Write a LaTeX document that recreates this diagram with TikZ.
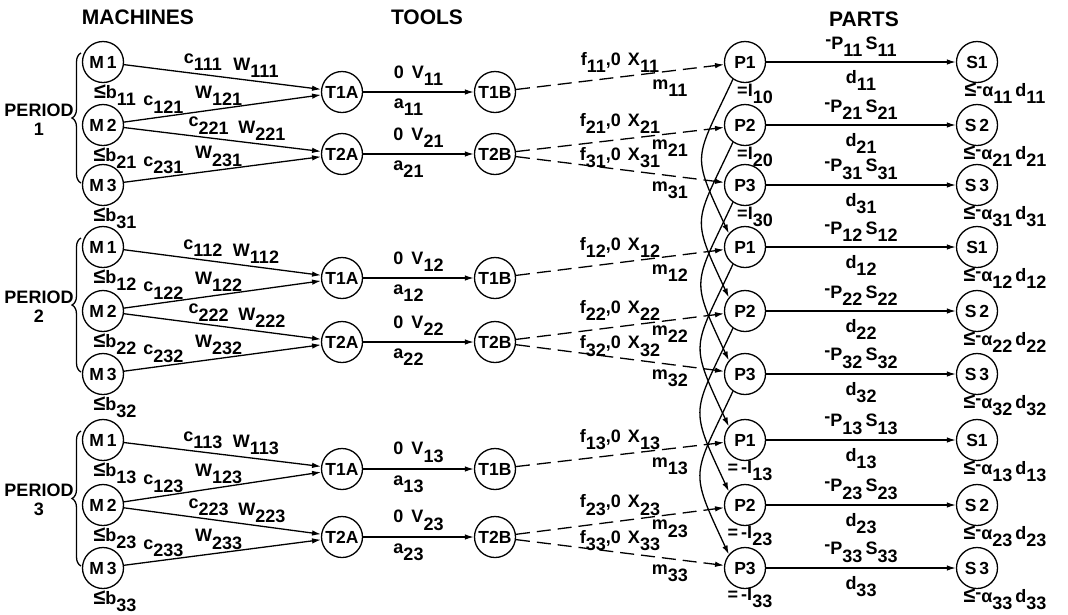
\documentclass[tikz,border=0pt]{standalone}
\usepackage{fontspec}
\setmainfont{Liberation Sans}
\usetikzlibrary{arrows.meta,decorations.pathreplacing,calc}
\newcommand{\sbx}[1]{\raisebox{-0.4em}{#1}}
\newcommand{\mn}{\raisebox{0.22em}{-}}
\newcommand{\leqb}{\scalebox{1.2}{≤}}
\begin{document}
\begin{tikzpicture}[x=1pt,y=-1pt,
  every node/.style={font=\fontsize{18}{19}\selectfont\bfseries},
  circ/.style={draw,circle,minimum size=41pt,inner sep=0pt,line width=1.3pt,font=\fontsize{17.5}{18}\selectfont\bfseries},
  arr/.style={line width=1.3pt,-{Latex[length=9pt,width=5.5pt]}},
  darr/.style={arr,dash pattern=on 14pt off 7pt},
  lab/.style={inner sep=1pt},
  head/.style={font=\fontsize{21}{23}\selectfont\bfseries},
  brc/.style={line width=1.3pt,decorate,decoration={brace,amplitude=9pt}},
]
\fill[white] (0,0) rectangle (1068,614);
\useasboundingbox (0,0) rectangle (1068,614);
\node[head] (hm) at (138,17) {MACHINES};
\node[head] (ht) at (427,17) {TOOLS};
\node[head] (hp) at (864,19) {PARTS};
\foreach \pp/\ya/\yb/\yc/\ta/\tb in {1/62/125/185/92/154,2/247/311/374/278/342,3/440/505/568/469/537}{
  \node[circ] (M1\pp) at (103,\ya) {M\,1};
  \node[circ] (M2\pp) at (103,\yb) {M\,2};
  \node[circ] (M3\pp) at (103,\yc) {M\,3};
  \node[circ] (TA1\pp) at (342,\ta) {T1A};
  \node[circ] (TB1\pp) at (495,\ta) {T1B};
  \node[circ] (TA2\pp) at (342,\tb) {T2A};
  \node[circ] (TB2\pp) at (495,\tb) {T2B};
  \node[circ] (P1\pp) at (745,\ya) {P1};
  \node[circ] (P2\pp) at (745,\yb) {P2};
  \node[circ] (P3\pp) at (745,\yc) {P3};
  \node[circ] (S1\pp) at (977,\ya) {S1};
  \node[circ] (S2\pp) at (977,\yb) {S\,2};
  \node[circ] (S3\pp) at (977,\yc) {S\,3};
  % period brace and label
  \coordinate (bb\pp) at (81,{\yc-2});
  \coordinate (bt\pp) at (81,{\ya-9});
  \draw[brc] (bb\pp) -- (bt\pp);
  \node[align=center,inner sep=0pt] (per\pp) at (39,{(\ya+\yc)/2-4}) {PERIOD\\\pp};
  % bounds under machines
  \node[lab,anchor=north,xshift=12pt] (b1\pp) at (M1\pp.south) {\leqb b\sbx{1\pp}};
  \node[lab,anchor=north,xshift=12pt] (b2\pp) at (M2\pp.south) {\leqb b\sbx{2\pp}};
  \node[lab,anchor=north,xshift=12pt] (b3\pp) at (M3\pp.south) {\leqb b\sbx{3\pp}};
  % machine -> tool
  \draw[arr] (M1\pp) -- node[lab,pos=0.40,above=2pt]{c\sbx{11\pp}} node[lab,pos=0.67,above=2pt]{W\sbx{11\pp}} (TA1\pp);
  \draw[arr] (M2\pp) -- node[lab,pos=0.20,above=2pt]{c\sbx{12\pp}} node[lab,pos=0.48,above=2pt]{W\sbx{12\pp}} (TA1\pp);
  \draw[arr] (M2\pp) -- node[lab,pos=0.43,above=2pt]{c\sbx{22\pp}} node[lab,pos=0.70,above=2pt]{W\sbx{22\pp}} (TA2\pp);
  \draw[arr] (M3\pp) -- node[lab,pos=0.20,above=2pt]{c\sbx{23\pp}} node[lab,pos=0.48,above=2pt]{W\sbx{23\pp}} (TA2\pp);
  % tool A -> tool B
  \draw[arr] (TA1\pp) -- node[lab,above=5pt]{0\hspace{8pt}V\sbx{1\pp}} node[lab,below=5pt,xshift=-10pt]{a\sbx{1\pp}} (TB1\pp);
  \draw[arr] (TA2\pp) -- node[lab,above=5pt]{0\hspace{8pt}V\sbx{2\pp}} node[lab,below=5pt,xshift=-10pt]{a\sbx{2\pp}} (TB2\pp);
  % tool -> parts (dashed)
  \draw[darr] (TB1\pp) -- node[lab,pos=0.5,above=3pt]{f\sbx{1\pp},0\hspace{7pt}X\sbx{1\pp}} node[lab,pos=0.74,below=7pt]{m\sbx{1\pp}} (P1\pp);
  \draw[darr] (TB2\pp) -- node[lab,pos=0.5,above=4pt]{f\sbx{2\pp},0\hspace{7pt}X\sbx{2\pp}} node[lab,pos=0.74,below=4pt]{m\sbx{2\pp}} (P2\pp);
  \draw[darr] (TB2\pp) -- node[lab,pos=0.5,above=0pt]{f\sbx{3\pp},0\hspace{7pt}X\sbx{3\pp}} node[lab,pos=0.74,below=4pt]{m\sbx{3\pp}} (P3\pp);
  % parts -> sales
  \draw[arr] (P1\pp) -- node[lab,above=4pt]{\mn P\sbx{1\pp}\,S\sbx{1\pp}} node[lab,below=7pt]{d\sbx{1\pp}} (S1\pp);
  \draw[arr] (P2\pp) -- node[lab,above=4pt]{\mn P\sbx{2\pp}\,S\sbx{2\pp}} node[lab,below=7pt]{d\sbx{2\pp}} (S2\pp);
  \draw[arr] (P3\pp) -- node[lab,above=4pt]{\mn P\sbx{3\pp}\,S\sbx{3\pp}} node[lab,below=7pt]{d\sbx{3\pp}} (S3\pp);
  % bounds under sales
  \node[lab,anchor=north,xshift=28pt,yshift=2pt] (sa1\pp) at (S1\pp.south) {\leqb\mn α\sbx{1\pp}\,d\sbx{1\pp}};
  \node[lab,anchor=north,xshift=28pt,yshift=2pt] (sa2\pp) at (S2\pp.south) {\leqb\mn α\sbx{2\pp}\,d\sbx{2\pp}};
  \node[lab,anchor=north,xshift=28pt,yshift=2pt] (sa3\pp) at (S3\pp.south) {\leqb\mn α\sbx{3\pp}\,d\sbx{3\pp}};
}
% inventory labels
\node[lab,anchor=north,xshift=10pt] (i11) at (P11.south) {=I\sbx{10}};
\node[lab,anchor=north,xshift=10pt] (i21) at (P21.south) {=I\sbx{20}};
\node[lab,anchor=north,xshift=10pt] (i31) at (P31.south) {=I\sbx{30}};
\node[lab,anchor=north,xshift=5pt,yshift=1pt] (i13) at (P13.south) {=\,-I\sbx{13}};
\node[lab,anchor=north,xshift=5pt,yshift=1pt] (i23) at (P23.south) {=\,-I\sbx{23}};
\node[lab,anchor=north,xshift=5pt,yshift=2pt] (i33) at (P33.south) {=\,-I\sbx{33}};
% inventory carry-over arcs
\foreach \i in {1,2,3}{
  \draw[arr] (P\i1.235) to[out=245,in=115,looseness=1.5] (P\i2.140);
  \draw[arr] (P\i2.235) to[out=245,in=115,looseness=1.5] (P\i3.140);
}
\end{tikzpicture}
\end{document}
